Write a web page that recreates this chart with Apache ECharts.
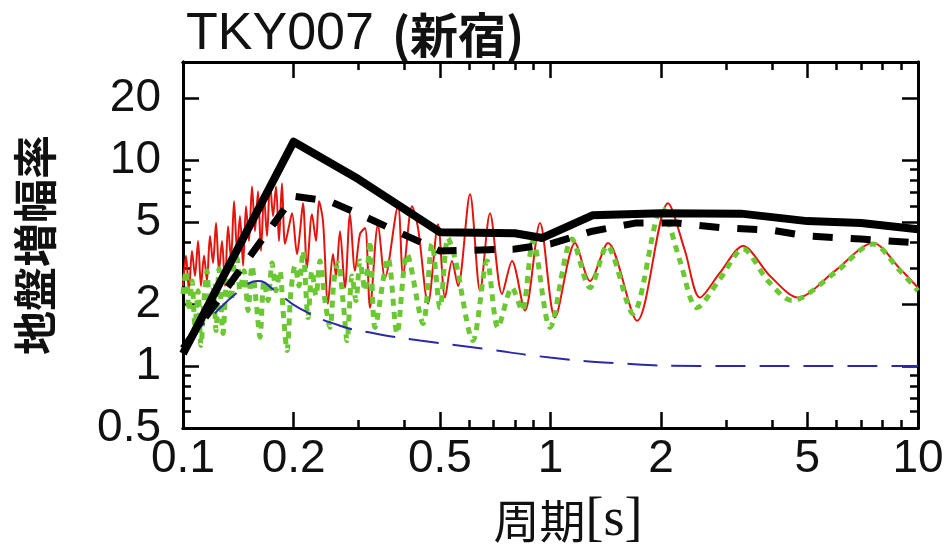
<!DOCTYPE html>
<html><head><meta charset="utf-8">
<script src="https://cdn.jsdelivr.net/npm/echarts@6/dist/echarts.min.js"></script>
<style>html,body{margin:0;padding:0;background:#fff}#c{width:948px;height:560px}</style>
</head><body><div id="c"></div>
<script>
// Tick values (real units)
const xTickLabels = [0.1, 0.2, 0.5, 1, 2, 5, 10];
const xMinorTicks = [0.3, 0.4, 0.6, 0.7, 0.8, 0.9, 3, 4, 6, 7, 8, 9];
const yTickLabels = [0.5, 1, 2, 5, 10, 20];
const yMinorTicks = [0.6, 0.7, 0.8, 0.9, 3, 4, 6, 7, 8, 9];
const xRange = [0.1, 10];
const yRange = [0.5, 30];

// [period (s), amplification]
const redData = [[0.100,2.45],[0.1019,3.43],[0.1038,2.32],[0.1058,3.62],[0.1078,2.74],[0.1099,4.05],[0.1119,2.45],[0.1141,3.43],[0.1162,2.59],[0.1184,4.28],[0.1207,3.17],[0.1230,4.95],[0.1253,2.90],[0.1277,4.05],[0.1301,2.45],[0.1326,4.78],[0.1351,3.31],[0.1377,6.32],[0.1403,3.62],[0.1429,5.35],[0.1457,3.07],[0.1484,5.98],[0.1512,4.05],[0.1541,7.46],[0.1570,4.52],[0.1600,7.06],[0.1630,3.62],[0.1661,6.68],[0.1693,4.28],[0.1725,7.89],[0.1758,5.35],[0.1791,7.46],[0.1825,4.05],[0.1859,7.72],[0.1895,3.92],[0.1943,4.78],[0.1980,5.53],[0.2043,3.50],[0.2082,4.52],[0.2121,6.18],[0.2175,3.00],[0.2244,5.46],[0.2301,4.05],[0.2345,6.32],[0.2404,5.06],[0.2480,2.01],[0.2559,3.50],[0.2608,2.74],[0.2674,4.52],[0.2759,2.40],[0.2847,5.46],[0.2938,2.90],[0.3031,4.38],[0.3128,4.68],[0.3228,1.92],[0.3393,4.89],[0.3545,2.68],[0.3846,5.98],[0.3969,2.80],[0.4200,5.98],[0.4361,4.68],[0.4642,2.01],[0.4942,4.89],[0.5164,2.15],[0.5395,3.24],[0.5602,2.45],[0.6039,6.83],[0.6431,2.32],[0.6846,5.53],[0.7380,2.24],[0.7859,3.24],[0.8523,1.86],[0.9363,4.95],[1.0285,1.72],[1.166,3.96],[1.281,2.59],[1.434,3.96],[1.720,1.66],[2.088,6.18],[2.323,3.62],[2.551,2.15],[2.892,2.84],[3.341,3.83],[3.957,2.74],[4.716,2.15],[5.945,2.90],[7.545,3.96],[8.935,2.97],[10.0,2.40]];

const greenData = [[0.100,2.24],[0.1019,2.90],[0.1038,1.86],[0.1058,2.59],[0.1078,1.57],[0.1099,2.32],[0.1119,1.26],[0.1141,2.08],[0.1162,2.90],[0.1184,1.76],[0.1207,2.45],[0.1230,1.49],[0.1253,2.97],[0.1285,1.44],[0.1317,2.59],[0.1351,2.08],[0.1377,3.17],[0.1403,3.35],[0.1429,2.32],[0.1466,2.90],[0.1503,1.86],[0.1541,3.07],[0.1580,2.08],[0.1620,1.38],[0.1661,2.59],[0.1703,2.08],[0.1747,3.17],[0.1791,2.32],[0.1836,2.90],[0.1872,1.86],[0.1919,1.19],[0.1967,2.32],[0.2018,3.07],[0.2069,2.45],[0.2121,3.62],[0.2189,1.72],[0.2244,2.90],[0.2301,2.20],[0.2359,3.24],[0.2434,2.08],[0.2512,1.54],[0.2575,2.59],[0.2641,3.17],[0.2725,2.08],[0.2795,1.33],[0.2884,2.74],[0.2956,2.08],[0.3031,3.24],[0.3128,2.32],[0.3228,4.05],[0.3330,1.54],[0.3613,3.35],[0.3823,1.44],[0.4070,3.50],[0.4499,1.61],[0.4760,3.92],[0.5006,1.92],[0.5261,4.19],[0.5497,3.35],[0.6153,1.33],[0.6719,3.24],[0.7197,1.54],[0.7859,2.40],[0.8364,1.86],[0.8964,4.05],[0.9968,1.54],[1.144,4.14],[1.281,2.40],[1.425,3.83],[1.677,1.80],[2.011,5.84],[2.251,3.24],[2.504,1.92],[2.892,2.65],[3.341,3.70],[3.907,2.59],[4.542,2.08],[5.945,2.84],[7.545,3.92],[8.935,2.90],[10.0,2.32]];

const solidData = [[0.1,1.15],[0.2,12.3],[0.3,8.1],[0.5,4.47],[0.8,4.42],[0.95,4.19],[1.3,5.4],[2.0,5.53],[3.3,5.5],[5,5.06],[7,4.95],[10,4.62]];

const dashData = [[0.1,1.22],[0.2,6.68],[0.25,6.32],[0.3,5.5],[0.5,3.62],[0.8,3.70],[1.0,3.92],[1.3,4.52],[1.7,4.95],[2.2,4.95],[3,4.68],[4,4.57],[5,4.28],[7,4.14],[10,3.96]];

const blueData = [[0.1,1.28],[0.1162,1.66],[0.1457,2.40],[0.16,2.59],[0.178,2.32],[0.2082,1.90],[0.2674,1.57],[0.333,1.44],[0.4415,1.33],[0.6431,1.22],[0.9968,1.10],[1.546,1.03],[2.551,1.0],[10,1.0]];

const L = Math.log10;
const toLog = d => d.map(p => [L(p[0]), L(p[1])]);
const fmt = v => String(parseFloat(Math.pow(10, v).toPrecision(6)));

const FONT = "Liberation Sans";
const CJK = "Noto Sans CJK JP";
const SERIF = "'Liberation Serif', 'Times New Roman', Times, serif";
const gridRect = { left: 183, right: 30, top: 62, bottom: 132 };

function xAx(grid, pos, ticks, len, labels) {
  return {
    type: 'value', gridIndex: grid, position: pos, min: L(xRange[0]), max: L(xRange[1]),
    axisLine: { show: true, onZero: false, lineStyle: { color: '#000', width: 3 } },
    splitLine: { show: false },
    axisTick: { show: true, inside: true, length: len, customValues: ticks.map(L), lineStyle: { color: '#000', width: 2.5 } },
    axisLabel: labels ? { show: true, customValues: labels.map(L), formatter: fmt, fontSize: 46, fontFamily: FONT, color: '#111', margin: 8 } : { show: false }
  };
}
function yAx(grid, pos, ticks, len, labels, extra) {
  return Object.assign({
    type: 'value', gridIndex: grid, position: pos, min: L(yRange[0]), max: L(yRange[1]),
    axisLine: { show: true, onZero: false, lineStyle: { color: '#000', width: 3 } },
    splitLine: { show: false },
    axisTick: { show: true, inside: true, length: len, customValues: ticks.map(L), lineStyle: { color: '#000', width: 2.5 } },
    axisLabel: labels ? { show: true, customValues: labels.map(L), formatter: fmt, fontSize: 46, fontFamily: FONT, color: '#111', margin: 22 } : { show: false }
  }, extra || {});
}

const chart = echarts.init(document.getElementById('c'), null, { renderer: 'canvas' });
chart.setOption({
  backgroundColor: '#fff',
  animation: false,
  title: {
    text: '{a|TKY007}{b|(新宿)}',
    left: 181, top: 4,
    textStyle: { fontWeight: 'normal', rich: {
      a: { fontSize: 52, fontFamily: FONT, fontWeight: 'normal', color: '#111' },
      b: { fontSize: 48, fontFamily: CJK, fontWeight: 'bold', color: '#111', padding: [0, 0, 0, 18] }
    } }
  },
  graphic: [{
    type: 'text', x: 568, y: 494, z: 10,
    style: {
      text: '{a|周期}{b|[s]}', align: 'center', verticalAlign: 'top',
      rich: {
        a: { fontSize: 46, fontFamily: CJK, fill: '#111' },
        b: { fontSize: 54, fontFamily: SERIF, fill: '#111' }
      }
    }
  }],
  grid: [Object.assign({}, gridRect), Object.assign({}, gridRect)],
  xAxis: [
    xAx(0, 'bottom', xTickLabels.slice(1, -1), 16, xTickLabels),
    xAx(0, 'top', xTickLabels.slice(1, -1), 16, null),
    xAx(1, 'bottom', xMinorTicks, 8, null),
    xAx(1, 'top', xMinorTicks, 8, null)
  ],
  yAxis: [
    yAx(0, 'left', yTickLabels.slice(1), 16, yTickLabels, {
      name: '地盤増幅率', nameLocation: 'middle', nameGap: 126, nameRotate: 90,
      nameTextStyle: { fontSize: 44, fontFamily: CJK, fontWeight: 'bold', color: '#111' }
    }),
    yAx(0, 'right', yTickLabels.slice(1), 16, null),
    yAx(1, 'left', yMinorTicks, 8, null),
    yAx(1, 'right', yMinorTicks, 8, null)
  ],
  series: [
    { name: 'obs1', type: 'line', data: toLog(redData), showSymbol: false, smooth: 0.3,
      lineStyle: { color: '#e3140e', width: 2 }, z: 2 },
    { name: 'obs2', type: 'line', data: toLog(greenData), showSymbol: false, smooth: 0.3,
      lineStyle: { color: '#6cc832', width: 5, type: [7, 6] }, z: 3 },
    { name: 'model', type: 'line', data: toLog(blueData), showSymbol: false, smooth: 0.5,
      lineStyle: { color: '#2a2aa8', width: 2, type: [30, 14] }, z: 4 },
    { name: 'dash', type: 'line', data: toLog(dashData), showSymbol: false,
      lineStyle: { color: '#000', width: 7, type: [20, 18] }, z: 5 },
    { name: 'solid', type: 'line', data: toLog(solidData), showSymbol: false,
      lineStyle: { color: '#000', width: 8, join: 'round' }, z: 6 }
  ]
});
</script>
</body></html>
